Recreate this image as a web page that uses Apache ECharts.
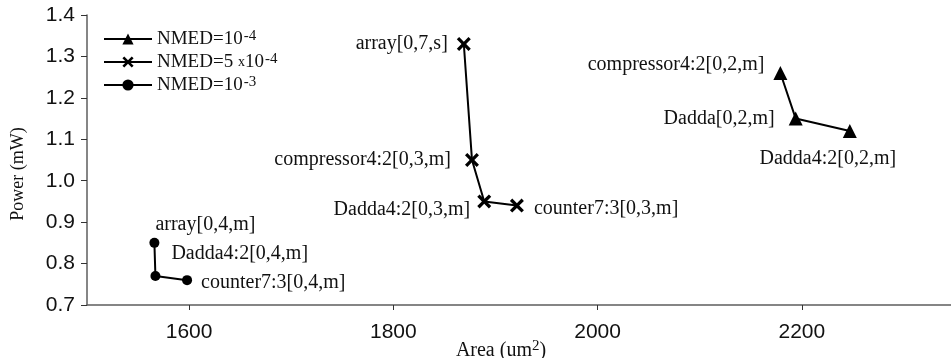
<!DOCTYPE html>
<html>
<head>
<meta charset="utf-8">
<script src="https://cdn.jsdelivr.net/npm/echarts@6/dist/echarts.min.js"></script>
<style>
  html, body { margin: 0; padding: 0; background: #fff; }
  #chart { width: 951px; height: 358px; }
</style>
</head>
<body>
<div id="chart"></div>
<script>
// Area / power trade-off of the approximate multiplier configurations
const seriesNames = ['NMED=10^-4', 'NMED=5x10^-4', 'NMED=10^-3'];

const nmed1e4Names = ['compressor4:2[0,2,m]', 'Dadda[0,2,m]', 'Dadda4:2[0,2,m]'];
const nmed1e4Area  = [2179, 2194, 2247];
const nmed1e4Power = [1.26, 1.15, 1.12];

const nmed5e4Names = ['array[0,7,s]', 'compressor4:2[0,3,m]', 'Dadda4:2[0,3,m]', 'counter7:3[0,3,m]'];
const nmed5e4Area  = [1869, 1877, 1889, 1921];
const nmed5e4Power = [1.33, 1.05, 0.95, 0.94];

const nmed1e3Names = ['array[0,4,m]', 'Dadda4:2[0,4,m]', 'counter7:3[0,4,m]'];
const nmed1e3Area  = [1566, 1567, 1598];
const nmed1e3Power = [0.85, 0.77, 0.76];

const xTicks = [1600, 1800, 2000, 2200];

// label placement for each point name
const labelPlace = {
  'compressor4:2[0,2,m]': { position: 'left', offset: [-4, -8] },
  'Dadda[0,2,m]':         { position: 'left', offset: [-9, 0] },
  'Dadda4:2[0,2,m]':      { position: 'bottom', offset: [-22, 6] },
  'array[0,7,s]':         { position: 'left', offset: [-4, 0] },
  'compressor4:2[0,3,m]': { position: 'left', offset: [-9, 0] },
  'Dadda4:2[0,3,m]':      { position: 'left', offset: [-2, 8] },
  'counter7:3[0,3,m]':    { position: 'right', offset: [5, 3] },
  'array[0,4,m]':         { position: 'top', offset: [51, 2] },
  'Dadda4:2[0,4,m]':      { position: 'right', offset: [6, -22] },
  'counter7:3[0,4,m]':    { position: 'right', offset: [4, 3] }
};

const serif = '"Liberation Serif", "Times New Roman", serif';
const sans = '"Liberation Sans", Arial, sans-serif';

const crossPath = 'path://M0,2 L2,0 L6,4 L10,0 L12,2 L8,6 L12,10 L10,12 L6,8 L2,12 L0,10 L4,6 Z';

function buildData(names, xs, ys) {
  return names.map((n, i) => ({
    name: n,
    value: [xs[i], ys[i]],
    label: Object.assign({ show: true, formatter: n }, labelPlace[n])
  }));
}

function makeSeries(name, names, xs, ys, symbol, size) {
  return {
    name: name,
    type: 'line',
    data: buildData(names, xs, ys),
    symbol: symbol,
    symbolSize: size,
    lineStyle: { color: '#000', width: 2 },
    itemStyle: { color: '#000' },
    label: { color: '#111', fontFamily: serif, fontSize: 20 },
    emphasis: { disabled: true },
    z: 3
  };
}

const chart = echarts.init(document.getElementById('chart'), null, { renderer: 'canvas' });

chart.setOption({
  animation: false,
  backgroundColor: '#fff',
  grid: { left: 87, right: -4, top: 15, bottom: 53, outerBoundsMode: 'none', containLabel: false },
  legend: {
    left: 98,
    top: 24,
    orient: 'vertical',
    itemWidth: 48,
    itemHeight: 14,
    itemGap: 3,
    selectedMode: false,
    data: seriesNames,
    formatter: function (name) {
      if (name === 'NMED=10^-4') return '{b|NMED=10}{sup|-4}';
      if (name === 'NMED=5x10^-4') return '{b|NMED=5 }{sm|x}{b|10}{sup|-4}';
      return '{b|NMED=10}{sup|-3}';
    },
    textStyle: {
      color: '#111',
      fontFamily: serif,
      rich: {
        b: { fontFamily: serif, fontSize: 19, color: '#111', lineHeight: 20, verticalAlign: 'bottom' },
        sm: { fontFamily: serif, fontSize: 14, color: '#111', lineHeight: 20, verticalAlign: 'bottom', padding: [0, 0, 3, 0] },
        sup: { fontFamily: serif, fontSize: 15, color: '#111', lineHeight: 14, verticalAlign: 'top', padding: [0, 0, 2, 1] }
      }
    }
  },
  xAxis: {
    type: 'value',
    min: 1500,
    max: 2350,
    name: '{b|Area (um}{sup|2}{b|)}',
    nameLocation: 'middle',
    nameGap: 34,
    nameMoveOverlap: false,
    nameTextStyle: {
      padding: [0, 40, 0, 0],
      rich: {
        b: { fontFamily: serif, fontSize: 20, color: '#111', lineHeight: 22, verticalAlign: 'bottom' },
        sup: { fontFamily: serif, fontSize: 15, color: '#111', lineHeight: 22, verticalAlign: 'top' }
      }
    },
    splitLine: { show: false },
    axisLine: { lineStyle: { color: '#5e5e5e', width: 1.5 } },
    axisTick: { show: true, length: 5, customValues: xTicks, lineStyle: { color: '#333' } },
    axisLabel: {
      customValues: xTicks, color: '#111', fontFamily: sans, fontSize: 21, margin: 17,
      formatter: v => String(v)
    }
  },
  yAxis: {
    type: 'value',
    min: 0.7,
    max: 1.4,
    interval: 0.1,
    name: 'Power (mW)',
    nameLocation: 'middle',
    nameGap: 60,
    nameTextStyle: { fontFamily: serif, fontSize: 18, color: '#111', padding: [0, 28, 0, 0] },
    splitLine: { show: false },
    axisLine: { show: true, lineStyle: { color: '#5e5e5e', width: 1.5 } },
    axisTick: { show: true, length: 6, lineStyle: { color: '#333' } },
    axisLabel: {
      color: '#111', fontFamily: sans, fontSize: 21, margin: 12,
      formatter: v => v.toFixed(1)
    }
  },
  series: [
    makeSeries(seriesNames[0], nmed1e4Names, nmed1e4Area, nmed1e4Power, 'triangle', 14),
    makeSeries(seriesNames[1], nmed5e4Names, nmed5e4Area, nmed5e4Power, crossPath, 14),
    makeSeries(seriesNames[2], nmed1e3Names, nmed1e3Area, nmed1e3Power, 'circle', 10)
  ]
});
</script>
</body>
</html>
